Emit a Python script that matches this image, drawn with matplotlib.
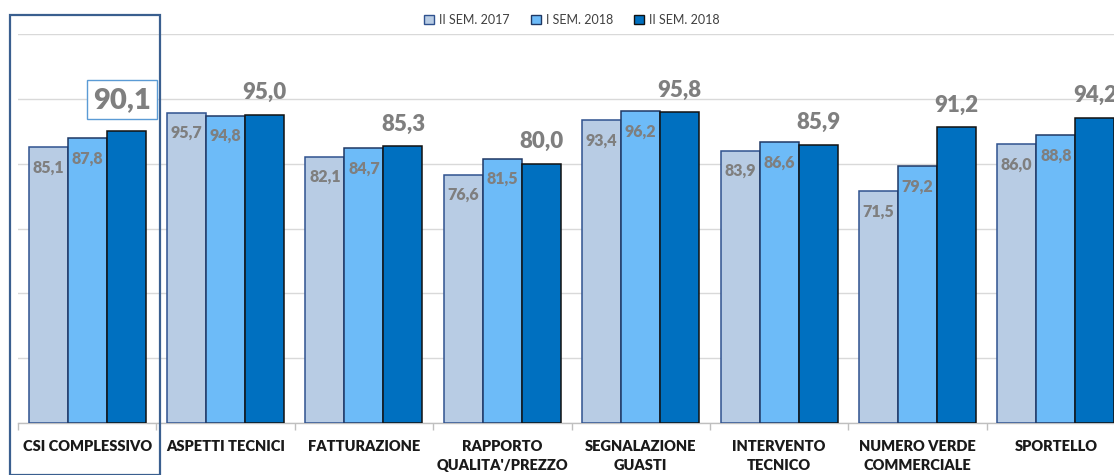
import matplotlib
matplotlib.use("Agg")
import matplotlib.pyplot as plt
from matplotlib.patches import Patch, Rectangle

# =========================
# DATI
# =========================
categorie = ["CSI COMPLESSIVO", "ASPETTI TECNICI", "FATTURAZIONE", "RAPPORTO\nQUALITA'/PREZZO",
             "SEGNALAZIONE\nGUASTI", "INTERVENTO\nTECNICO", "NUMERO VERDE\nCOMMERCIALE", "SPORTELLO"]
serie_nomi = ["II SEM. 2017", "I SEM. 2018", "II SEM. 2018"]
sem2_2017 = [85.1, 95.7, 82.1, 76.6, 93.4, 83.9, 71.5, 86.0]
sem1_2018 = [87.8, 94.8, 84.7, 81.5, 96.2, 86.6, 79.2, 88.8]
sem2_2018 = [90.1, 95.0, 85.3, 80.0, 95.8, 85.9, 91.2, 94.2]

colori = ["#b8cce4", "#6dbbf8", "#0070c0"]
bordi = ["#2f528f", "#1f3864", "#111111"]
grigio = "#7f7f7f"

plt.rcParams["font.family"] = ["Lato", "DejaVu Sans"]

fig = plt.figure(figsize=(11.14, 4.75), dpi=100)
W, H = 1114, 475
ax = fig.add_axes([18 / W, 52 / H, (1125 - 18) / W, (423 - 34) / H])

x = list(range(len(categorie)))
w = 0.282
serie = [sem2_2017, sem1_2018, sem2_2018]

for i, valori in enumerate(serie):
    pos = [xi + (i - 1) * w for xi in x]
    ax.bar(pos, valori, width=w, color=colori[i], edgecolor=bordi[i], linewidth=1.1, zorder=3)
    for j, (p, v) in enumerate(zip(pos, valori)):
        testo = f"{v:.1f}".replace(".", ",")
        if i < 2:
            ax.annotate(testo, (p, v), xytext=(0, -14.5), textcoords="offset points",
                        ha="center", va="center", fontsize=11.5, fontweight="heavy",
                        color=grigio, zorder=5)
        elif j == 0:
            ax.annotate(testo, (p, v), xytext=(-3, 22.5), textcoords="offset points",
                        ha="center", va="center", fontsize=21, fontweight="heavy",
                        color=grigio, zorder=5,
                        bbox=dict(boxstyle="square,pad=0.22", facecolor="white",
                                  edgecolor="#5b9bd5", linewidth=1.0))
        else:
            ax.annotate(testo, (p, v), xytext=(0, 16), textcoords="offset points",
                        ha="center", va="center", fontsize=16, fontweight="heavy",
                        color=grigio, zorder=5, annotation_clip=False)

ax.set_xlim(-0.5, len(categorie) - 0.5)
ax.set_ylim(0, 120)

# griglia
ax.set_yticks(range(0, 121, 20))
ax.yaxis.grid(True, color="#d9d9d9", linewidth=1.0, zorder=0)
ax.tick_params(axis="y", left=False, labelleft=False)

for s in ["top", "right", "left"]:
    ax.spines[s].set_visible(False)
ax.spines["bottom"].set_color("#bfbfbf")
ax.spines["bottom"].set_linewidth(1.0)

# tick ai confini, etichette al centro
ax.set_xticks([xi - 0.5 for xi in x] + [len(categorie) - 0.5])
ax.set_xticklabels([])
ax.tick_params(axis="x", which="major", length=5, color="#bfbfbf", width=1.0)
ax.set_xticks(x, minor=True)
ax.set_xticklabels(categorie, minor=True, fontsize=10.5, fontweight="heavy",
                   color="#1a1a1a", linespacing=1.6)
ax.tick_params(axis="x", which="minor", length=0, pad=12)

# legenda
handles = [Patch(facecolor=colori[i], edgecolor=bordi[i], linewidth=1.0, label=serie_nomi[i])
           for i in range(3)]
fig.legend(handles=handles, loc="center", bbox_to_anchor=(572 / W, 1 - 20 / H), ncol=3,
           frameon=False, fontsize=9, labelcolor="#404040", handlelength=0.8,
           handleheight=0.8, handletextpad=0.4, columnspacing=1.7)

# riquadro CSI
fig.patches.append(Rectangle((10 / W, 0), 150 / W, 1 - 15 / H, transform=fig.transFigure,
                             fill=False, edgecolor="#3a5f8f", linewidth=1.6, zorder=10))

fig.savefig("out.png", dpi=100)
